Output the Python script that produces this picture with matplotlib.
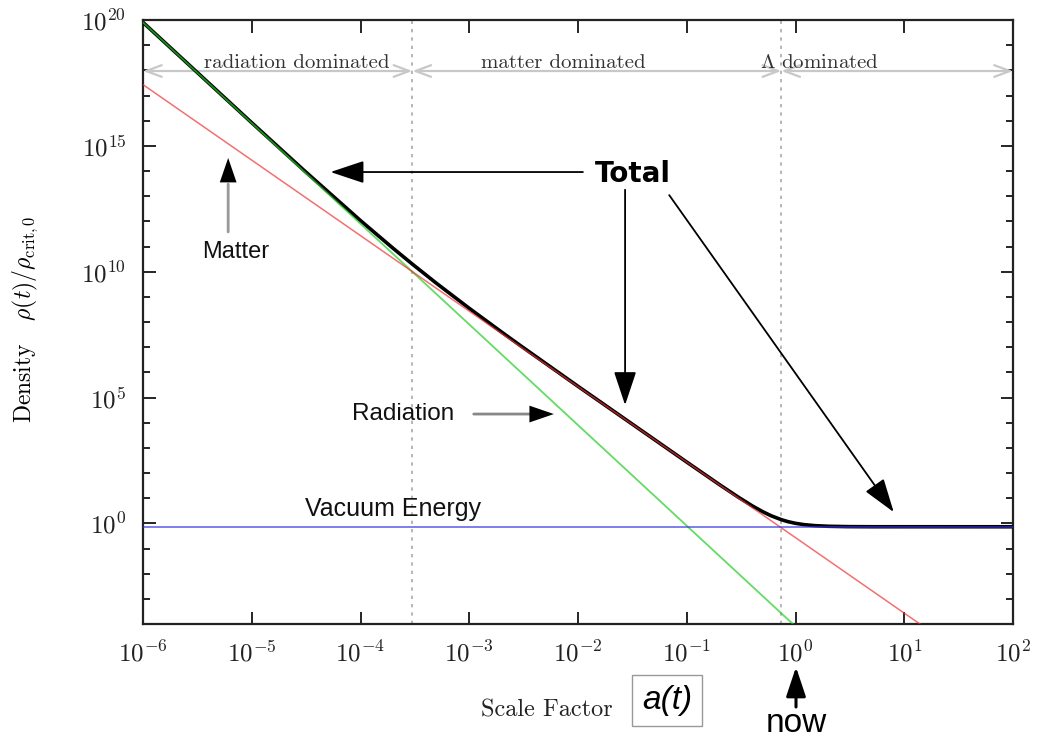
import numpy as np
import matplotlib
matplotlib.use("Agg")
import matplotlib.pyplot as plt
from matplotlib.ticker import FixedLocator, LogLocator, FuncFormatter, NullLocator, NullFormatter

#------------------------------------------#
# Donnees
#------------------------------------------#

# droites de puissance : extremites (a, rho)
radiation_a = [1e-6, 1e2]
radiation_rho = [8e19, 8e-13]
matter_a = [1e-6, 1e2]
matter_rho = [2.7e17, 2.7e-7]
vacuum_a = [1e-6, 1e2]
vacuum_rho = [0.73, 0.73]

# courbe totale, points releves
total_a = [1e-6, 1e-5, 3e-5, 1e-4, 2e-4, 3e-4, 5e-4, 1e-3, 2e-3, 3e-3, 1e-2,
           1e-1, 0.2, 0.3, 0.4, 0.5, 0.6, 0.74, 0.85, 1.0, 1.2, 1.5, 2.0,
           3.0, 5.0, 1e2]
total_rho = [8.03e19, 8.27e15, 1.09e14, 1.07e12, 8.4e10, 1.99e10, 3.44e9,
             3.5e8, 3.88e7, 1.1e7, 2.78e5, 271.5, 34.5, 10.74, 4.95, 2.89,
             1.98, 1.40, 1.17, 1.0, 0.886, 0.81, 0.764, 0.74, 0.732, 0.73]

a_eq = 3.0e-4      # egalite radiation / matiere
a_lambda = 0.74    # egalite matiere / Lambda

region_labels = ["radiation dominated", "matter dominated", r"$\mathit{\Lambda}$ dominated"]

x_ticks = [1e-6, 1e-5, 1e-4, 1e-3, 1e-2, 1e-1, 1e0, 1e1, 1e2]
y_ticks = [1e0, 1e5, 1e10, 1e15, 1e20]

#------------------------------------------#

plt.rcParams['mathtext.fontset'] = 'cm'
plt.rcParams['axes.unicode_minus'] = False

fig = plt.figure(figsize=(10.42, 7.38), dpi=100)
ax = fig.add_axes([143 / 1042, 1 - 624 / 738, 870 / 1042, 604 / 738])
ax.set_xscale('log')
ax.set_yscale('log')
ax.set_xlim(1e-6, 1e2)
ax.set_ylim(1e-4, 1e20)

# courbes
ax.plot(total_a, total_rho, color='black', lw=2.6, solid_capstyle='round', zorder=3)
ax.plot(radiation_a, radiation_rho, color='#22cc22', lw=1.3, alpha=0.7, zorder=4)
ax.plot(matter_a, matter_rho, color='#ee3333', lw=1.1, alpha=0.7, zorder=4)
ax.plot(vacuum_a, vacuum_rho, color='#3333dd', lw=1.1, alpha=0.8, zorder=4)

# lignes verticales pointillees
for xv in (a_eq, a_lambda):
    ax.axvline(xv, color='#aaaaaa', ls=(0, (2, 3)), lw=1.2, zorder=1)

# fleches des regimes
bounds = [1e-6, a_eq, a_lambda, 1e2]
label_x = [2.6e-5, 7.4e-3, 1.66]
for i in range(3):
    ax.annotate('', xy=(bounds[i + 1], 9.4e17), xytext=(bounds[i], 9.4e17),
                arrowprops=dict(arrowstyle='<->,head_length=0.8,head_width=0.3',
                                color='#c8c8c8', lw=1.6, shrinkA=0, shrinkB=0,
                                mutation_scale=14), zorder=2)
    ax.text(label_x[i], 1.95e18, region_labels[i], family='cmr10', fontsize=15,
            ha='center', va='center', color='#333333', zorder=5)

# annotations
big = dict(arrowstyle='-|>,head_length=1.5,head_width=0.5', color='black',
           lw=1.3, shrinkA=0, shrinkB=0, mutation_scale=14)
ax.text(0.0321, 7.6e13, "Total", fontsize=20, fontweight='bold',
        family='DejaVu Sans', ha='center', va='center')
ax.annotate('', xy=(5.3e-5, 9.1e13), xytext=(0.0111, 9.1e13), arrowprops=big)
ax.annotate('', xy=(0.0271, 5.0e4), xytext=(0.0271, 1.8e13), arrowprops=big)
ax.annotate('', xy=(8.0, 2.8), xytext=(0.069, 1.1e13), arrowprops=big)

small = dict(arrowstyle='-|>,head_length=1.6,head_width=0.55', color='black',
             lw=0, shrinkA=0, shrinkB=0, mutation_scale=11)
# Matter
ax.text(7.05e-6, 6.0e10, "Matter", fontsize=17, family='Liberation Sans',
        ha='center', va='center', color='#111111')
ax.annotate('', xy=(6.07e-6, 3.0e13), xytext=(6.07e-6, 3.8e11),
            arrowprops=dict(arrowstyle='-', color='#999999', lw=2, shrinkA=0, shrinkB=0))
ax.annotate('', xy=(6.07e-6, 3.3e14), xytext=(6.07e-6, 2.0e13), arrowprops=small)
# Radiation
ax.text(2.49e-4, 2.2e4, "Radiation", fontsize=17.5, family='Liberation Sans',
        ha='center', va='center', color='#111111')
ax.annotate('', xy=(4.3e-3, 2.2e4), xytext=(1.1e-3, 2.2e4),
            arrowprops=dict(arrowstyle='-', color='#888888', lw=2, shrinkA=0, shrinkB=0))
ax.annotate('', xy=(6.0e-3, 2.2e4), xytext=(3.8e-3, 2.2e4), arrowprops=small)
# Vacuum
ax.text(2.0e-4, 3.7, "Vacuum Energy", fontsize=18, family='Liberation Sans',
        ha='center', va='center', color='#111111')

# axes et graduations
ax.xaxis.set_major_locator(FixedLocator(x_ticks))
ax.xaxis.set_minor_locator(NullLocator())
ax.yaxis.set_major_locator(FixedLocator(y_ticks))
ax.yaxis.set_minor_locator(LogLocator(base=10, subs=(1.0,), numticks=40))
ax.yaxis.set_minor_formatter(NullFormatter())
fmt = FuncFormatter(lambda v, p: r'$10^{%d}$' % int(round(np.log10(v))))
ax.xaxis.set_major_formatter(fmt)
ax.yaxis.set_major_formatter(fmt)
ax.tick_params(which='both', direction='in', top=True, right=True, width=1.2)
ax.tick_params(which='major', length=9, labelsize=18, pad=12, labelcolor='#222222')
ax.tick_params(which='minor', length=5)
for s in ax.spines.values():
    s.set_linewidth(1.6)
    s.set_color('#222222')

ax.set_ylabel(r'Density   $\rho(t)/\rho_{\rm crit,0}$', family='cmr10', fontsize=17)
ax.yaxis.set_label_coords(-0.118, 0.505)

# textes sous l'axe
fig.text(613 / 1042, 1 - 710 / 738, "Scale Factor", family='cmr10', fontsize=17.5,
         ha='right', va='center', color='#222222')
fig.text(667 / 1042, 1 - 700 / 738, "a(t)", family='Liberation Sans', style='italic',
         fontsize=24, ha='center', va='center',
         bbox=dict(boxstyle='square,pad=0.3', fc='white', ec='#999999', lw=1))
fig.text(796 / 1042, 1 - 724 / 738, "now", family='Liberation Sans', fontsize=24,
         ha='center', va='center')
fig.patches.append(matplotlib.patches.FancyArrowPatch(
    (796 / 1042, 1 - 707 / 738), (796 / 1042, 1 - 667 / 738),
    transform=fig.transFigure, arrowstyle='-|>,head_length=1.5,head_width=0.5',
    mutation_scale=12, color='black', lw=2.2, shrinkA=0, shrinkB=0))

fig.savefig('out.png', dpi=100, facecolor='white')
